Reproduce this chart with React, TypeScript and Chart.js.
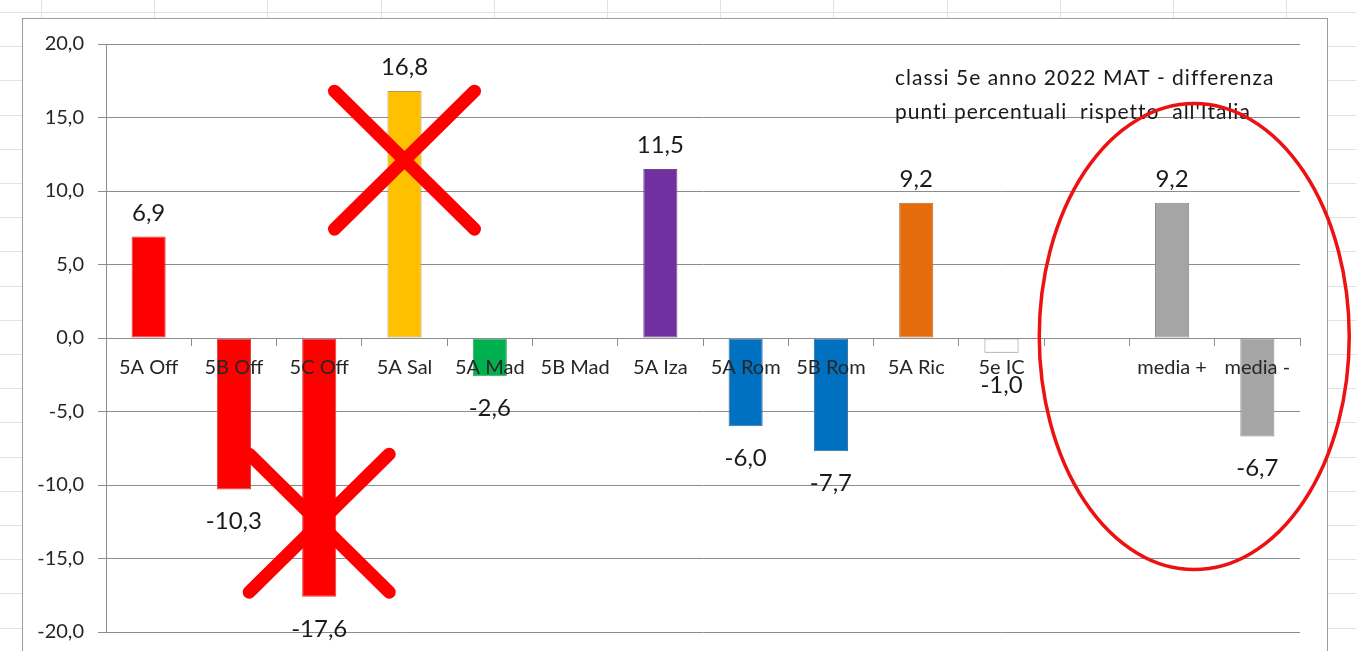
import React, { useEffect, useRef } from 'react';
import { Chart, registerables } from 'chart.js';

Chart.register(...registerables);

// ---- data ----
const categories = ['5A Off', '5B Off', '5C Off', '5A Sal', '5A Mad', '5B Mad', '5A Iza', '5A Rom', '5B Rom', '5A Ric', '5e IC', '', 'media +', 'media -'];
const values: (number | null)[] = [6.9, -10.3, -17.6, 16.8, -2.6, null, 11.5, -6.0, -7.7, 9.2, -1.0, null, 9.2, -6.7];
const barColors = ['#FF0000', '#FF0000', '#FF0000', '#FFC000', '#00B050', '#FFFFFF', '#7030A0', '#0070C0', '#0070C0', '#E46C0A', '#FFFFFF', '#FFFFFF', '#A5A5A5', '#A5A5A5'];
const barBorders = ['#D84040', '#D84040', '#D84040', '#B09A60', '#40A060', '#8C8C8C', '#6A4A8A', '#3A70A0', '#3A70A0', '#B07040', '#8C8C8C', '#8C8C8C', '#8C8C8C', '#8C8C8C'];
const yMin = -20;
const yMax = 20;
const yStep = 5;
const noteLines = ['classi 5e anno 2022 MAT - differenza', "punti percentuali  rispetto  all'Italia"];
// hand-drawn marks, anchored in data space (category index, value)
const crossMarks = [
  { category: 3, value: 12.1 },
  { category: 2, value: -12.6 },
];
const highlight = { category: 12.26, value: 0.1 };

const fmt = (v: number) => v.toFixed(1).replace('.', ',');

export default function App() {
  const ref = useRef<HTMLCanvasElement>(null);

  useEffect(() => {
    const canvas = ref.current!;

    const sheetPlugin = {
      id: 'sheet',
      beforeDraw(chart: any) {
        const ctx = chart.ctx as CanvasRenderingContext2D;
        const W = chart.width, H = chart.height;
        ctx.save();
        ctx.fillStyle = '#FFFFFF';
        ctx.fillRect(0, 0, W, H);
        ctx.strokeStyle = '#E2E2E2';
        ctx.lineWidth = 1;
        for (let x = 41; x < W; x += 113.2) {
          ctx.beginPath();
          ctx.moveTo(Math.round(x) + 0.5, 0);
          ctx.lineTo(Math.round(x) + 0.5, H);
          ctx.stroke();
        }
        for (let y = 12; y < H; y += 34.2) {
          ctx.beginPath();
          ctx.moveTo(0, Math.round(y) + 0.5);
          ctx.lineTo(W, Math.round(y) + 0.5);
          ctx.stroke();
        }
        // chart object box
        ctx.fillStyle = '#FFFFFF';
        ctx.fillRect(22, 18, 1305, H);
        ctx.strokeStyle = '#9C9C9C';
        ctx.strokeRect(22.5, 18.5, 1305, H + 10);
        ctx.restore();
      },
    };

    const overlayPlugin = {
      id: 'overlay',
      afterDatasetsDraw(chart: any) {
        const ctx = chart.ctx as CanvasRenderingContext2D;
        const meta = chart.getDatasetMeta(0);
        ctx.save();
        ctx.font = '24px Lato';
        ctx.fillStyle = '#1A1A1A';
        ctx.textAlign = 'center';
        ctx.textBaseline = 'alphabetic';
        meta.data.forEach((bar: any, i: number) => {
          const v = values[i];
          if (v === null) return;
          if (v >= 0) ctx.fillText(fmt(v), bar.x, bar.y - 16);
          else ctx.fillText(fmt(v), bar.x, bar.y + 40);
        });
        ctx.restore();
      },
      afterDraw(chart: any) {
        const ctx = chart.ctx as CanvasRenderingContext2D;
        const xs = chart.scales.x;
        const ys = chart.scales.y;
        ctx.save();
        // note text
        ctx.font = '21px Lato';
        (ctx as any).letterSpacing = '1px';
        ctx.fillStyle = '#1A1A1A';
        ctx.textAlign = 'left';
        ctx.textBaseline = 'alphabetic';
        ctx.fillText(noteLines[0], 895, 85);
        ctx.fillText(noteLines[1], 895, 119);
        (ctx as any).letterSpacing = '0px';

        // red crosses
        ctx.strokeStyle = '#FF0000';
        ctx.lineWidth = 13;
        ctx.lineCap = 'round';
        crossMarks.forEach((m) => {
          const cx = xs.getPixelForValue(m.category);
          const cy = ys.getPixelForValue(m.value);
          const hw = 70, hh = 69;
          ctx.beginPath();
          ctx.moveTo(cx - hw, cy - hh);
          ctx.lineTo(cx + hw, cy + hh);
          ctx.moveTo(cx + hw, cy - hh);
          ctx.lineTo(cx - hw, cy + hh);
          ctx.stroke();
        });

        // red ellipse
        const ex = xs.getPixelForValue(highlight.category);
        const ey = ys.getPixelForValue(highlight.value);
        ctx.strokeStyle = '#EE1111';
        ctx.lineWidth = 3.5;
        ctx.beginPath();
        ctx.ellipse(ex, ey, 155, 233, 0, 0, Math.PI * 2);
        ctx.stroke();
        ctx.restore();
      },
    };

    const chart = new Chart(canvas, {
      type: 'bar',
      data: {
        labels: categories,
        datasets: [
          {
            data: values,
            backgroundColor: barColors,
            borderColor: barBorders,
            borderWidth: 1,
            borderSkipped: false,
            categoryPercentage: 1,
            barPercentage: 0.4,
          },
        ],
      },
      options: {
        responsive: false,
        animation: false,
        devicePixelRatio: 1,
        layout: { padding: { top: 44, bottom: 19, left: 0, right: 56 } },
        plugins: {
          legend: { display: false },
          tooltip: { enabled: false },
          title: { display: false },
        },
        scales: {
          x: {
            position: { y: 0 },
            offset: true,
            grid: {
              offset: true,
              drawOnChartArea: false,
              drawTicks: true,
              tickLength: 7,
              color: '#8C8C8C',
            },
            border: { display: true, color: '#8C8C8C', width: 1, z: 1 },
            ticks: {
              z: 1,
              autoSkip: false,
              maxRotation: 0,
              minRotation: 0,
              padding: 11,
              color: '#262626',
              font: { family: 'Lato', size: 20 },
            },
          },
          y: {
            min: yMin,
            max: yMax,
            afterFit(scale: any) {
              scale.width = 106;
              scale.paddingTop = 0;
              scale.paddingBottom = 0;
            },
            ticks: {
              stepSize: yStep,
              padding: 14,
              color: '#262626',
              font: { family: 'Lato', size: 20 },
              callback: (v: any) => fmt(Number(v)),
            },
            grid: {
              color: '#8C8C8C',
              tickLength: 8,
              drawTicks: true,
            },
            border: { display: true, color: '#8C8C8C', width: 1 },
          },
        },
      },
      plugins: [sheetPlugin, overlayPlugin],
    } as any);

    return () => chart.destroy();
  }, []);

  return (
    <div style={{ position: 'fixed', left: 0, top: 0, width: 1356, height: 651, background: '#fff' }}>
      <canvas ref={ref} width={1356} height={651} style={{ display: 'block' }} />
    </div>
  );
}
